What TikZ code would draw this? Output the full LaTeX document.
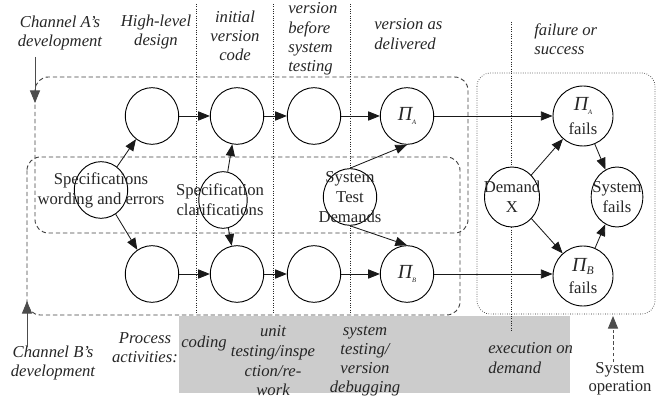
\documentclass[tikz,border=0pt]{standalone}
\usepackage{fontspec}
\setmainfont{Liberation Serif}
\usetikzlibrary{shapes.geometric, arrows.meta, positioning}
\newcommand{\PiSub}[2]{{\fontsize{12}{12}\selectfont\itshape Π}\raisebox{-2pt}{\fontsize{#2}{#2}\selectfont\itshape #1}}
\tikzset{
    stage/.style={ellipse, draw=black, fill=white, line width=0.55pt, minimum width=32pt, minimum height=34pt, inner sep=0pt},
    bigstage/.style={stage, minimum width=36pt, minimum height=36pt},
    lbl/.style={align=center, inner sep=0pt, font=\fontsize{10}{12}\selectfont, text=black!85},
    phase/.style={align=center, inner sep=0pt, font=\fontsize{10}{11.5}\selectfont\itshape, text=black!85},
    chanbox/.style={draw=black!75, dash pattern=on 2.6pt off 1.7pt, rounded corners=8pt, line width=0.55pt},
    opbox/.style={draw=black!85, densely dotted, rounded corners=8pt, line width=0.4pt},
    divider/.style={draw=black!85, densely dotted, line width=0.4pt},
    arrow/.style={-{Triangle[length=7pt,width=5.5pt]}, line width=0.5pt, draw=black!90},
    feed/.style={-{Triangle[length=7.5pt,width=6pt]}, line width=0.55pt, draw=black!70}
}
\begin{document}
\begin{tikzpicture}[x=0.6pt, y=-0.6pt]
    \useasboundingbox (0,0) rectangle (656,401);
    % activity band and phase dividers
    \fill[black!20] (179,316) rectangle (570,393);
    \draw[divider] (196,4) -- (196,313);
    \draw[divider] (273,4) -- (273,313);
    \draw[divider] (350,4) -- (350,314);
    \draw[divider] (511,22) -- (511,332);

    % channel boxes and system operation box
    \draw[chanbox] (35,77) rectangle (468,233);
    \draw[chanbox] (27,157) rectangle (460,315);
    \draw[opbox] (477,73) rectangle (655,314);

    % phase headings
    \node (chA) [phase] at (60,33) {Channel A's\\development};
    \node (hld) [phase] at (156,32) {High-level\\design};
    \node (ivc) [phase] at (235,36) {initial\\version\\code};
    \node (vbst) [phase, align=left, anchor=west] at (288,39) {version\\before\\system\\testing};
    \node (vad) [phase, align=left, anchor=west] at (374,34) {version as\\delivered};
    \node (fos) [phase, align=left, anchor=west] at (534,39) {failure or\\success};

    % process activities
    \node (chB) [phase] at (53,363) {Channel B's\\development};
    \node (proc) [phase] at (145,348) {Process\\activities:};
    \node (coding) [phase] at (204,343) {coding};
    \node (unit) [phase, font=\fontsize{10}{11.8}\selectfont\itshape] at (273,361) {unit\\testing/inspe\\ction/re-\\work};
    \node (systest) [phase] at (365,361) {system\\testing/\\version\\debugging};
    \node (exec) [phase, align=left, anchor=west] at (488,358) {execution on\\demand};
    \node (sysop) [lbl, font=\fontsize{10}{11}\selectfont] at (620,379) {System\\operation};

    % channel entry arrows
    \coordinate (chAend) at (35,103);
    \coordinate (chBend) at (27,301);
    \coordinate (opend) at (613,316);
    \draw[feed] (35,57) -- (chAend);
    \draw[feed] (27,347) -- (chBend);
    \draw[feed, dash pattern=on 2pt off 1.5pt] (613,362) -- (opend);

    % channel A
    \node (a1) [stage] at (152,116) {};
    \node (a2) [stage] at (237,116) {};
    \node (a3) [stage] at (314,116) {};
    \node (a4) [stage] at (407,116) {};
    \node (a4txt) [lbl] at (a4) {\PiSub{A}{4}};
    % channel B
    \node (b1) [stage] at (152,274) {};
    \node (b2) [stage] at (237,274) {};
    \node (b3) [stage] at (314,274) {};
    \node (b4) [stage] at (407,274) {};
    \node (b4txt) [lbl] at (b4) {\PiSub{B}{4}};

    % shared influences
    \node (spec) [stage] at (101,190) {};
    \node (spectxt) [lbl] at (spec) {Specifications\\wording and errors};
    \node (clar) [stage, minimum width=29pt] at (223,200) {};
    \node (clartxt) [lbl] at (220,200) {Specification\\clarifications};
    \node (stest) [stage] at (350,197) {};
    \node (stesttxt) [lbl] at (stest) {System\\Test\\Demands};

    % operation
    \node (demand) [bigstage, minimum width=33pt] at (512,197) {};
    \node (demandtxt) [lbl] at (demand) {Demand\\X};
    \node (afail) [bigstage] at (583,116) {};
    \node (afailtxt) [lbl] at (afail) {\PiSub{A}{4}\\[2pt]fails};
    \node (bfail) [bigstage] at (583,276) {};
    \node (bfailtxt) [lbl] at (bfail) {\PiSub{B}{7}\\[1pt]fails};
    \node (sfail) [bigstage, minimum width=31pt] at (617,197) {};
    \node (sfailtxt) [lbl] at (sfail) {System\\fails};

    \draw[arrow] (a1) -- (a2);
    \draw[arrow] (a2) -- (a3);
    \draw[arrow] (a3) -- (a4);
    \draw[arrow] (b1) -- (b2);
    \draw[arrow] (b2) -- (b3);
    \draw[arrow] (b3) -- (b4);
    \draw[arrow] (spec) -- (a1);
    \draw[arrow] (spec) -- (b1);
    \draw[arrow] (clar) -- (a2);
    \draw[arrow] (clar) -- (b2);
    \draw[arrow] (stest.north) -- (a4.south);
    \draw[arrow] (stest.south) -- (b4.north);
    \draw[arrow] (a4) -- (afail);
    \draw[arrow] (b4.east) -- (b4.east -| bfail.west);
    \draw[arrow] (demand) -- (afail);
    \draw[arrow] (demand) -- (bfail);
    \draw[arrow] (afail) -- (sfail);
    \draw[arrow] (bfail) -- (sfail);
\end{tikzpicture}
\end{document}
